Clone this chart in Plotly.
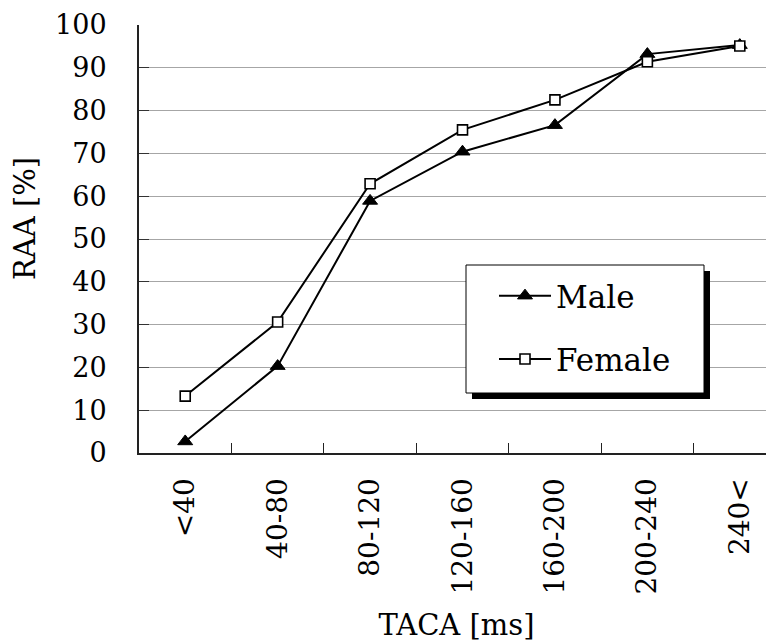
import plotly.graph_objects as go

categories = ["<40", "40-80", "80-120", "120-160", "160-200", "200-240", "240<"]
male = [2.7, 20.3, 58.9, 70.4, 76.6, 93.2, 95.3]
female = [13.3, 30.6, 62.9, 75.5, 82.5, 91.4, 95.1]
y_ticks = list(range(0, 101, 10))

FONT = "DejaVu Serif"

fig = go.Figure()
fig.add_trace(go.Scatter(
    x=categories, y=male, name="Male", mode="lines+markers",
    line=dict(color="black", width=2),
    marker=dict(symbol="triangle-up", size=13, color="black",
                line=dict(color="black", width=1)),
    legendgroup="m",
))
fig.add_trace(go.Scatter(
    x=categories, y=female, name="Female", mode="lines+markers",
    line=dict(color="black", width=2),
    marker=dict(symbol="square", size=10, color="white",
                line=dict(color="black", width=1.6)),
    legendgroup="f",
))

# the page body has an 8px margin, so the figure is shifted by 8px
W, H = 766, 634
L, R, T, B = 131, 0, 17, 189
pw = W - L - R
ph = H - T - B
bottom = H - B


def px(x):
    return (x - L) / pw


def py(y):
    return (bottom - y) / ph


# legend frame (figure pixels)
fx0, fy0, fx1, fy1 = 458, 257, 696, 385
# legend entries origin
lx0, ly0 = 486, 261

fig.update_layout(
    width=W, height=H,
    margin=dict(l=L, r=R, t=T, b=B, pad=0),
    paper_bgcolor="white", plot_bgcolor="white",
    font=dict(family=FONT, size=29, color="black"),
    showlegend=True,
    legend=dict(
        x=px(lx0), y=py(ly0),
        xanchor="left", yanchor="top",
        bgcolor="rgba(0,0,0,0)", borderwidth=0,
        font=dict(family=FONT, size=31, color="black"),
        tracegroupgap=20,
        itemwidth=52,
    ),
    xaxis=dict(
        type="category",
        range=[-0.5, 6.37],
        showline=True, linecolor="#222", linewidth=2,
        ticks="inside", tickson="boundaries", ticklen=10,
        tickcolor="#222", tickwidth=1,
        tickangle=-90,
        ticklabelstandoff=12,
        showgrid=False,
        title=dict(text="TACA [ms]", standoff=22,
                   font=dict(family=FONT, size=29)),
        tickfont=dict(family=FONT, size=28),
    ),
    yaxis=dict(
        range=[0, 100],
        tickvals=y_ticks,
        showline=True, linecolor="#222", linewidth=2,
        ticks="inside", ticklen=10, tickcolor="#333", tickwidth=1,
        showgrid=True, gridcolor="#a6a6a6", gridwidth=1,
        zeroline=False,
        ticklabelstandoff=25,
        tickfont=dict(family=FONT, size=27),
    ),
)

# y-axis title placed like the reference (slightly above the plot centre)
fig.add_annotation(
    text="RAA [%]", textangle=-90, showarrow=False,
    xref="paper", yref="paper", x=0, y=py(211),
    xanchor="center", yanchor="middle", xshift=17 - L,
    font=dict(family=FONT, size=29, color="black"),
)

# legend drop shadow and frame
fig.add_shape(
    type="rect", xref="paper", yref="paper", layer="above",
    x0=px(fx0 + 6), x1=px(fx1 + 6), y0=py(fy1 + 6), y1=py(fy0 + 6),
    fillcolor="black", line=dict(width=0),
)
fig.add_shape(
    type="rect", xref="paper", yref="paper", layer="above",
    x0=px(fx0), x1=px(fx1), y0=py(fy1), y1=py(fy0),
    fillcolor="white", line=dict(color="black", width=1),
)

fig.write_html("out.html")
